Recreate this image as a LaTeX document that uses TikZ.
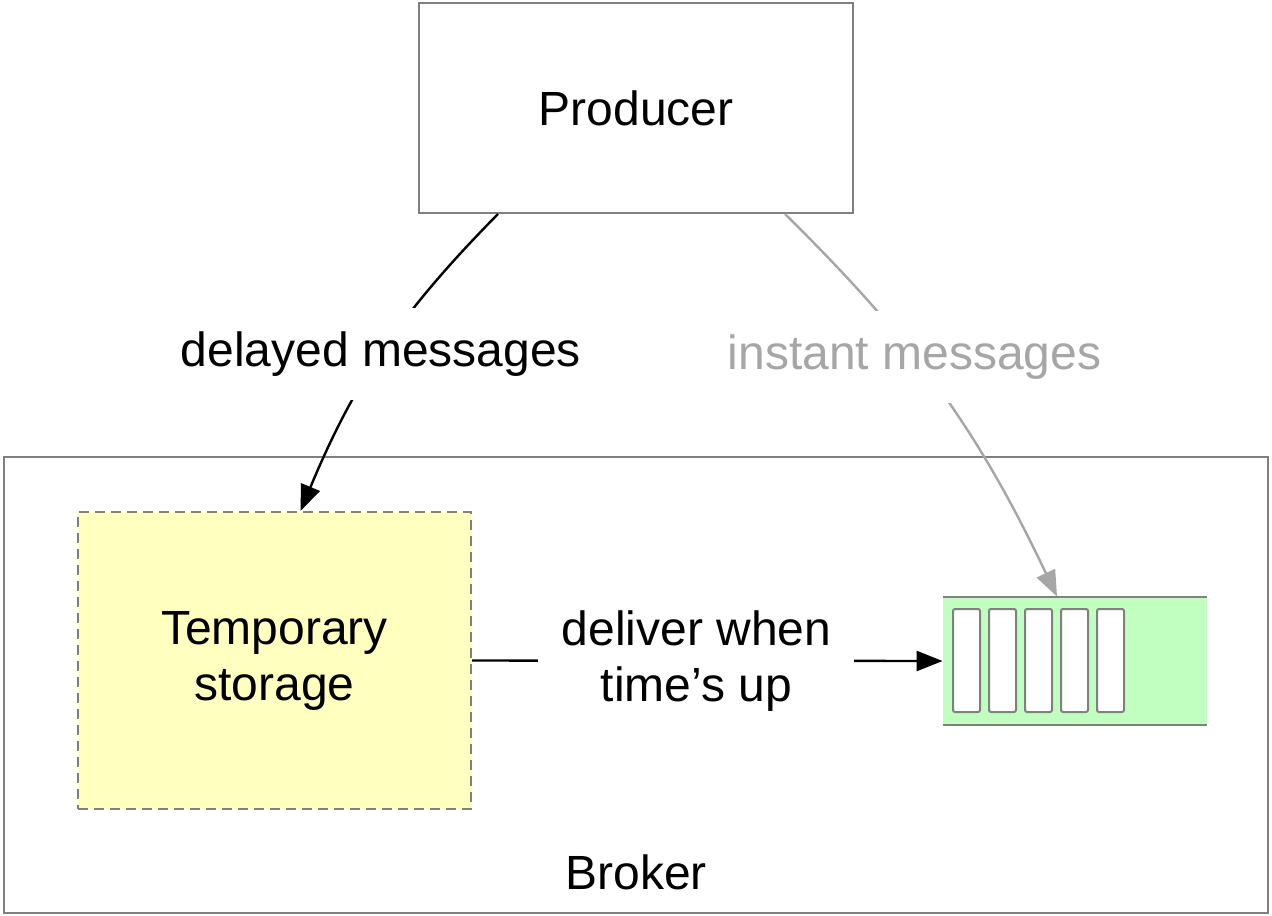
\documentclass[tikz,border=0pt]{standalone}
\usepackage{fontspec}
\setmainfont{Liberation Sans}
\usepackage{tikz}
\usetikzlibrary{arrows.meta,positioning}

\definecolor{boxgray}{HTML}{808080}
\definecolor{softgray}{HTML}{A6A6A6}
\definecolor{storeyellow}{HTML}{FFFFC0}
\definecolor{queuegreen}{HTML}{C0FFC0}

\begin{document}
\begin{tikzpicture}[x=0.5pt,y=-0.5pt,
  txt/.style={font=\fontsize{24}{28}\selectfont,align=center},
  box/.style={txt,draw=boxgray,line width=1pt,inner sep=0pt},
  store/.style={box,fill=storeyellow,dashed,dash pattern=on 5pt off 3pt},
  slot/.style={draw=boxgray,line width=1pt,fill=white,rounded corners=1pt,
               minimum width=13.5pt,minimum height=51.5pt,inner sep=0pt},
  lab/.style={txt,fill=white,inner sep=0pt,minimum height=46pt},
  e/.style={-{Triangle[length=13pt,width=10pt]},line width=1.2pt},
  eg/.style={e,draw=softgray}]

\useasboundingbox (0,0) rectangle (1272,915);

% ---- outer boxes ----
\node[box,minimum width=217pt,minimum height=105pt] (producer) at (636,108) {Producer};
\node[box,minimum width=632pt,minimum height=228pt] (broker) at (636,685) {};
\node[txt] (brokerlbl) at (636,872) {Broker};

% ---- inside the broker ----
\node[store,minimum width=196.5pt,minimum height=148.5pt] (storage) at (274.5,660.5) {Temporary\\storage};
\node[fill=queuegreen,minimum width=132pt,minimum height=64pt,inner sep=0pt] (queue) at (1075,661) {};
\draw[boxgray,line width=1pt] (queue.north west) -- (queue.north east);
\draw[boxgray,line width=1pt] (queue.south west) -- (queue.south east);
\foreach \i in {0,...,4}
  \node[slot] (slot\i) at (966.5+36*\i,660.5) {};

% ---- messages ----
\draw[e] ([xshift=-69pt]producer.south) to[bend right=11]
  node[lab,pos=0.51] (delayed) {delayed messages} ([xshift=13pt]storage.north);
\draw[eg] ([xshift=74.5pt]producer.south) to[bend left=10]
  node[lab,text=softgray,pos=0.4] (instant) {instant messages} ([xshift=-9pt]queue.north);
\draw[e] (storage.east) -- node[lab,minimum width=158pt,pos=0.477] (deliver) {deliver when\\time’s up} (queue.west);
\end{tikzpicture}
\end{document}
